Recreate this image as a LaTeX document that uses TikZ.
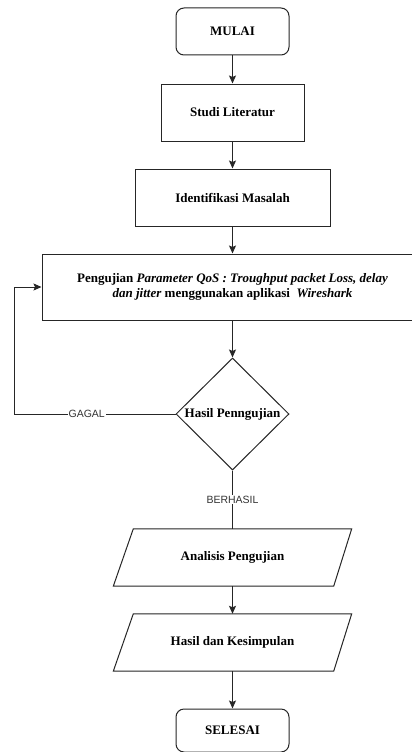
\documentclass[tikz,border=0pt]{standalone}
\usepackage{fontspec}
\setmainfont{Liberation Serif}
\newfontfamily\labelfont{Liberation Sans}
\usetikzlibrary{shapes.geometric,arrows.meta}
\begin{document}
\begin{tikzpicture}[x=1pt,y=-1pt,
  line/.style={draw=black!85,line width=1pt},
  arr/.style={line,-{Stealth[length=8pt,width=7pt,inset=1.5pt]}},
  txt/.style={font=\fontsize{13}{15}\selectfont\bfseries,text=black},
  term/.style={line,txt,rounded corners=8pt,minimum width=113pt,minimum height=47pt,inner sep=0pt},
  proc/.style={line,txt,minimum height=57pt,inner sep=0pt},
  decision/.style={line,txt,diamond,minimum width=113pt,minimum height=112pt,inner sep=0pt},
  io/.style={txt,minimum width=238pt,minimum height=57pt,inner sep=0pt},
  lab/.style={font=\labelfont\fontsize{10.5}{12}\selectfont,fill=white,inner sep=1pt,text=black!80}
]
\useasboundingbox (0,0) rectangle (412,752);
\fill[white] (0,0) rectangle (412,752);

\node[term] (mulai) at (232.5,31.5) {MULAI};
\node[proc,minimum width=143pt] (studi) at (232.5,112.5) {Studi Literatur};
\node[proc,minimum width=195pt] (ident) at (232.5,197.5) {Identifikasi Masalah};
\node[proc,minimum width=381pt,minimum height=66pt,align=center] (uji) at (232.5,287)
  {Pengujian \textit{Parameter QoS : Troughput packet Loss, delay}\\
   \textit{dan jitter} menggunakan aplikasi \ \textit{Wireshark}};
\node[decision] (hasil) at (232.5,414) {Hasil Penngujian};
\node[io] (analisis) at (232.5,557.5) {Analisis Pengujian};
\node[io] (kesim) at (232.5,642.5) {Hasil dan Kesimpulan};
\node[term,minimum height=43pt] (selesai) at (232.5,730.5) {SELESAI};

\draw[line] ([xshift=20pt]analisis.north west) -- (analisis.north east)
  -- ([xshift=-18pt]analisis.south east) -- (analisis.south west) -- cycle;
\draw[line] ([xshift=20pt]kesim.north west) -- (kesim.north east)
  -- ([xshift=-18pt]kesim.south east) -- (kesim.south west) -- cycle;

\coordinate (g) at (14,414);

\draw[arr] (mulai) -- (studi);
\draw[arr] (studi) -- (ident);
\draw[arr] (ident) -- (uji);
\draw[arr] (uji) -- (hasil);
\draw[line] (hasil) -- node[lab]{BERHASIL} (analisis);
\draw[arr] (analisis) -- (kesim);
\draw[arr] (kesim) -- (selesai);
\draw[arr] (hasil.west) -- node[lab,pos=0.55]{GAGAL} (g) |- (uji.west);
\end{tikzpicture}
\end{document}
